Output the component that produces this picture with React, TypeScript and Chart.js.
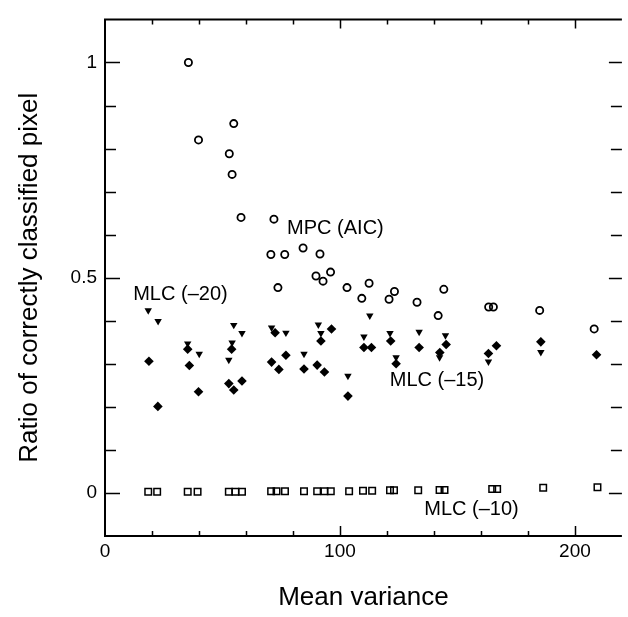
import React, { useEffect, useRef } from "react";
import { Chart, registerables } from "chart.js";

Chart.register(...registerables);

// ---- Data ----
const mpcX = [35.5, 39.8, 52.9, 54.1, 54.8, 57.9, 71.9, 70.6, 76.5, 84.3, 91.5, 89.8, 92.8, 96.0, 73.6, 103.0, 112.4, 109.3, 123.2, 120.9, 132.8, 144.2, 141.8, 163.3, 165.3, 185.0, 208.2];
const mpcY = [1.0, 0.82, 0.788, 0.74, 0.858, 0.64, 0.636, 0.554, 0.554, 0.569, 0.555, 0.504, 0.492, 0.513, 0.477, 0.477, 0.487, 0.452, 0.468, 0.45, 0.443, 0.473, 0.412, 0.432, 0.432, 0.424, 0.381];

const mlc20X = [18.4, 22.6, 35.2, 40.1, 52.7, 54.1, 54.8, 58.3, 70.9, 77.0, 84.7, 90.8, 91.9, 103.4, 110.2, 112.7, 121.3, 123.9, 133.7, 142.4, 144.9, 163.2, 185.5];
const mlc20Y = [0.424, 0.399, 0.347, 0.323, 0.309, 0.349, 0.39, 0.371, 0.384, 0.372, 0.323, 0.391, 0.371, 0.272, 0.363, 0.412, 0.371, 0.315, 0.374, 0.315, 0.366, 0.305, 0.327];

const mlc15X = [18.7, 22.5, 35.2, 35.9, 39.8, 52.7, 53.9, 54.8, 58.3, 70.9, 72.4, 74.0, 77.0, 84.7, 90.3, 91.9, 93.4, 96.4, 103.4, 110.2, 113.4, 121.6, 123.9, 133.7, 142.5, 145.2, 163.2, 166.6, 185.5, 209.2];
const mlc15Y = [0.306, 0.201, 0.334, 0.296, 0.235, 0.254, 0.334, 0.239, 0.26, 0.304, 0.372, 0.287, 0.32, 0.288, 0.297, 0.353, 0.281, 0.381, 0.225, 0.338, 0.338, 0.353, 0.3, 0.338, 0.326, 0.345, 0.324, 0.342, 0.351, 0.321];

const mlc10X = [18.4, 22.2, 35.2, 39.4, 52.7, 55.5, 58.3, 70.7, 73.0, 76.6, 84.7, 90.3, 93.4, 96.1, 103.9, 109.8, 113.7, 121.3, 123.0, 133.3, 142.4, 144.5, 164.8, 166.9, 186.5, 209.6];
const mlc10Y = [0.003, 0.003, 0.003, 0.003, 0.003, 0.003, 0.003, 0.004, 0.004, 0.004, 0.004, 0.004, 0.004, 0.004, 0.004, 0.005, 0.005, 0.006, 0.006, 0.006, 0.007, 0.007, 0.009, 0.009, 0.012, 0.013];

const xTickLabels = [0, 100, 200];
const yTickLabels = [0, 0.5, 1];

const seriesLabels = ["MPC (AIC)", "MLC (\u201320)", "MLC (\u201315)", "MLC (\u201310)"];
const labelAnchorX = [77.5, 12, 121.2, 135.9];
const labelAnchorY = [0.614, 0.461, 0.262, -0.039];

const xTitle = "Mean variance";
const yTitle = "Ratio of correctly classified pixel";

const FONT = "'Liberation Sans', Arial, Helvetica, sans-serif";

const toPoints = (xs: number[], ys: number[]) => xs.map((x, i) => ({ x, y: ys[i] }));

const isLabelled = (v: number, list: number[]) => list.some((t) => Math.abs(t - v) < 1e-6);

const framePlugin = {
  id: "frame",
  afterDraw(chart: any) {
    const { ctx, chartArea: a, scales } = chart;
    const xs = scales.x;
    const ys = scales.y;
    ctx.save();
    ctx.strokeStyle = "#000";
    ctx.lineCap = "butt";
    ctx.lineWidth = 2;
    ctx.beginPath();
    ctx.moveTo(a.left, a.top);
    ctx.lineTo(a.right, a.top);
    ctx.moveTo(a.left, a.top - 1);
    ctx.lineTo(a.left, a.bottom);
    ctx.lineTo(a.right, a.bottom);
    ctx.stroke();

    ctx.lineWidth = 1.5;
    ctx.beginPath();
    for (let i = 0; i <= 10; i++) {
      const v = i / 10;
      const py = Math.round(ys.getPixelForValue(v)) + 0.5;
      const major = i % 5 === 0;
      ctx.moveTo(a.left, py);
      ctx.lineTo(a.left + (major ? 15 : 11), py);
      ctx.moveTo(a.right, py);
      ctx.lineTo(a.right - (major ? 13 : 11), py);
    }
    for (let i = 1; i <= 10; i++) {
      const v = i * 20;
      const px = Math.round(xs.getPixelForValue(v)) + 0.5;
      const major = v % 100 === 0;
      ctx.moveTo(px, a.top);
      ctx.lineTo(px, a.top + (major ? 9 : 5));
      ctx.moveTo(px, a.bottom);
      ctx.lineTo(px, a.bottom - (major ? 10 : 5));
    }
    ctx.stroke();
    ctx.restore();
  },
  afterDatasetsDraw(chart: any) {
    const { ctx, scales } = chart;
    ctx.save();
    ctx.fillStyle = "#000";
    ctx.font = `20px ${FONT}`;
    ctx.textAlign = "left";
    ctx.textBaseline = "middle";
    seriesLabels.forEach((t, i) => {
      ctx.fillText(t, scales.x.getPixelForValue(labelAnchorX[i]), scales.y.getPixelForValue(labelAnchorY[i]));
    });
    ctx.restore();
  },
};

export default function App() {
  const ref = useRef<HTMLCanvasElement | null>(null);

  useEffect(() => {
    if (!ref.current) return;
    Chart.defaults.font.family = FONT;
    Chart.defaults.color = "#000";
    const chart = new Chart(ref.current, {
      type: "scatter",
      data: {
        datasets: [
          {
            label: seriesLabels[0],
            data: toPoints(mpcX, mpcY),
            pointStyle: "circle",
            pointRadius: 3.6,
            borderWidth: 1.8,
            borderColor: "#000",
            backgroundColor: "rgba(0,0,0,0)",
          },
          {
            label: seriesLabels[1],
            data: toPoints(mlc20X, mlc20Y),
            pointStyle: "triangle",
            rotation: 180,
            pointRadius: 4.3,
            borderWidth: 0,
            borderColor: "#000",
            backgroundColor: "#000",
          },
          {
            label: seriesLabels[2],
            data: toPoints(mlc15X, mlc15Y),
            pointStyle: "rectRot",
            pointRadius: 4.8,
            borderWidth: 0,
            borderColor: "#000",
            backgroundColor: "#000",
          },
          {
            label: seriesLabels[3],
            data: toPoints(mlc10X, mlc10Y),
            pointStyle: "rect",
            pointRadius: 4.6,
            borderWidth: 1.5,
            borderColor: "#000",
            backgroundColor: "rgba(0,0,0,0)",
          },
        ] as any,
      },
      options: {
        animation: false,
        responsive: false,
        maintainAspectRatio: false,
        layout: { padding: { top: 13, right: 0, left: 0, bottom: 0 } },
        plugins: { legend: { display: false }, tooltip: { enabled: false } },
        scales: {
          x: {
            type: "linear",
            min: 0,
            max: 220,
            grid: { display: false, drawTicks: false, tickLength: 0 },
            border: { display: false },
            ticks: {
              stepSize: 20,
              autoSkip: false,
              maxRotation: 0,
              padding: 4,
              font: { size: 19, family: FONT },
              color: "#000",
              callback: (v: any) => (isLabelled(Number(v), xTickLabels) ? String(Math.round(Number(v))) : ""),
            },
            title: {
              display: true,
              text: xTitle,
              font: { size: 26, family: FONT, lineHeight: 1 },
              color: "#000",
              padding: { top: 0, bottom: 6 },
            },
            afterFit: (s: any) => {
              s.height = 81;
            },
          },
          y: {
            type: "linear",
            min: -0.1,
            max: 1.1,
            grid: { display: false, drawTicks: false, tickLength: 0 },
            border: { display: false },
            ticks: {
              stepSize: 0.1,
              autoSkip: false,
              padding: 8,
              font: { size: 19, family: FONT },
              color: "#000",
              callback: (v: any) => {
                const n = Number(v);
                if (!isLabelled(n, yTickLabels)) return "";
                const r = Math.round(n * 2) / 2;
                return r === 0 ? "0" : r === 1 ? "1" : "0.5";
              },
            },
            title: {
              display: true,
              text: yTitle,
              font: { size: 26, family: FONT, lineHeight: 1 },
              color: "#000",
              padding: { top: 17, bottom: 0 },
            },
            afterFit: (s: any) => {
              s.width = 105;
            },
          },
        },
      },
      plugins: [framePlugin],
    } as any);
    return () => chart.destroy();
  }, []);

  return (
    <div style={{ position: "fixed", left: 0, top: 0, width: 628, height: 617, background: "#fff" }}>
      <canvas ref={ref} width={628} height={617} style={{ display: "block", width: 628, height: 617 }} />
    </div>
  );
}
